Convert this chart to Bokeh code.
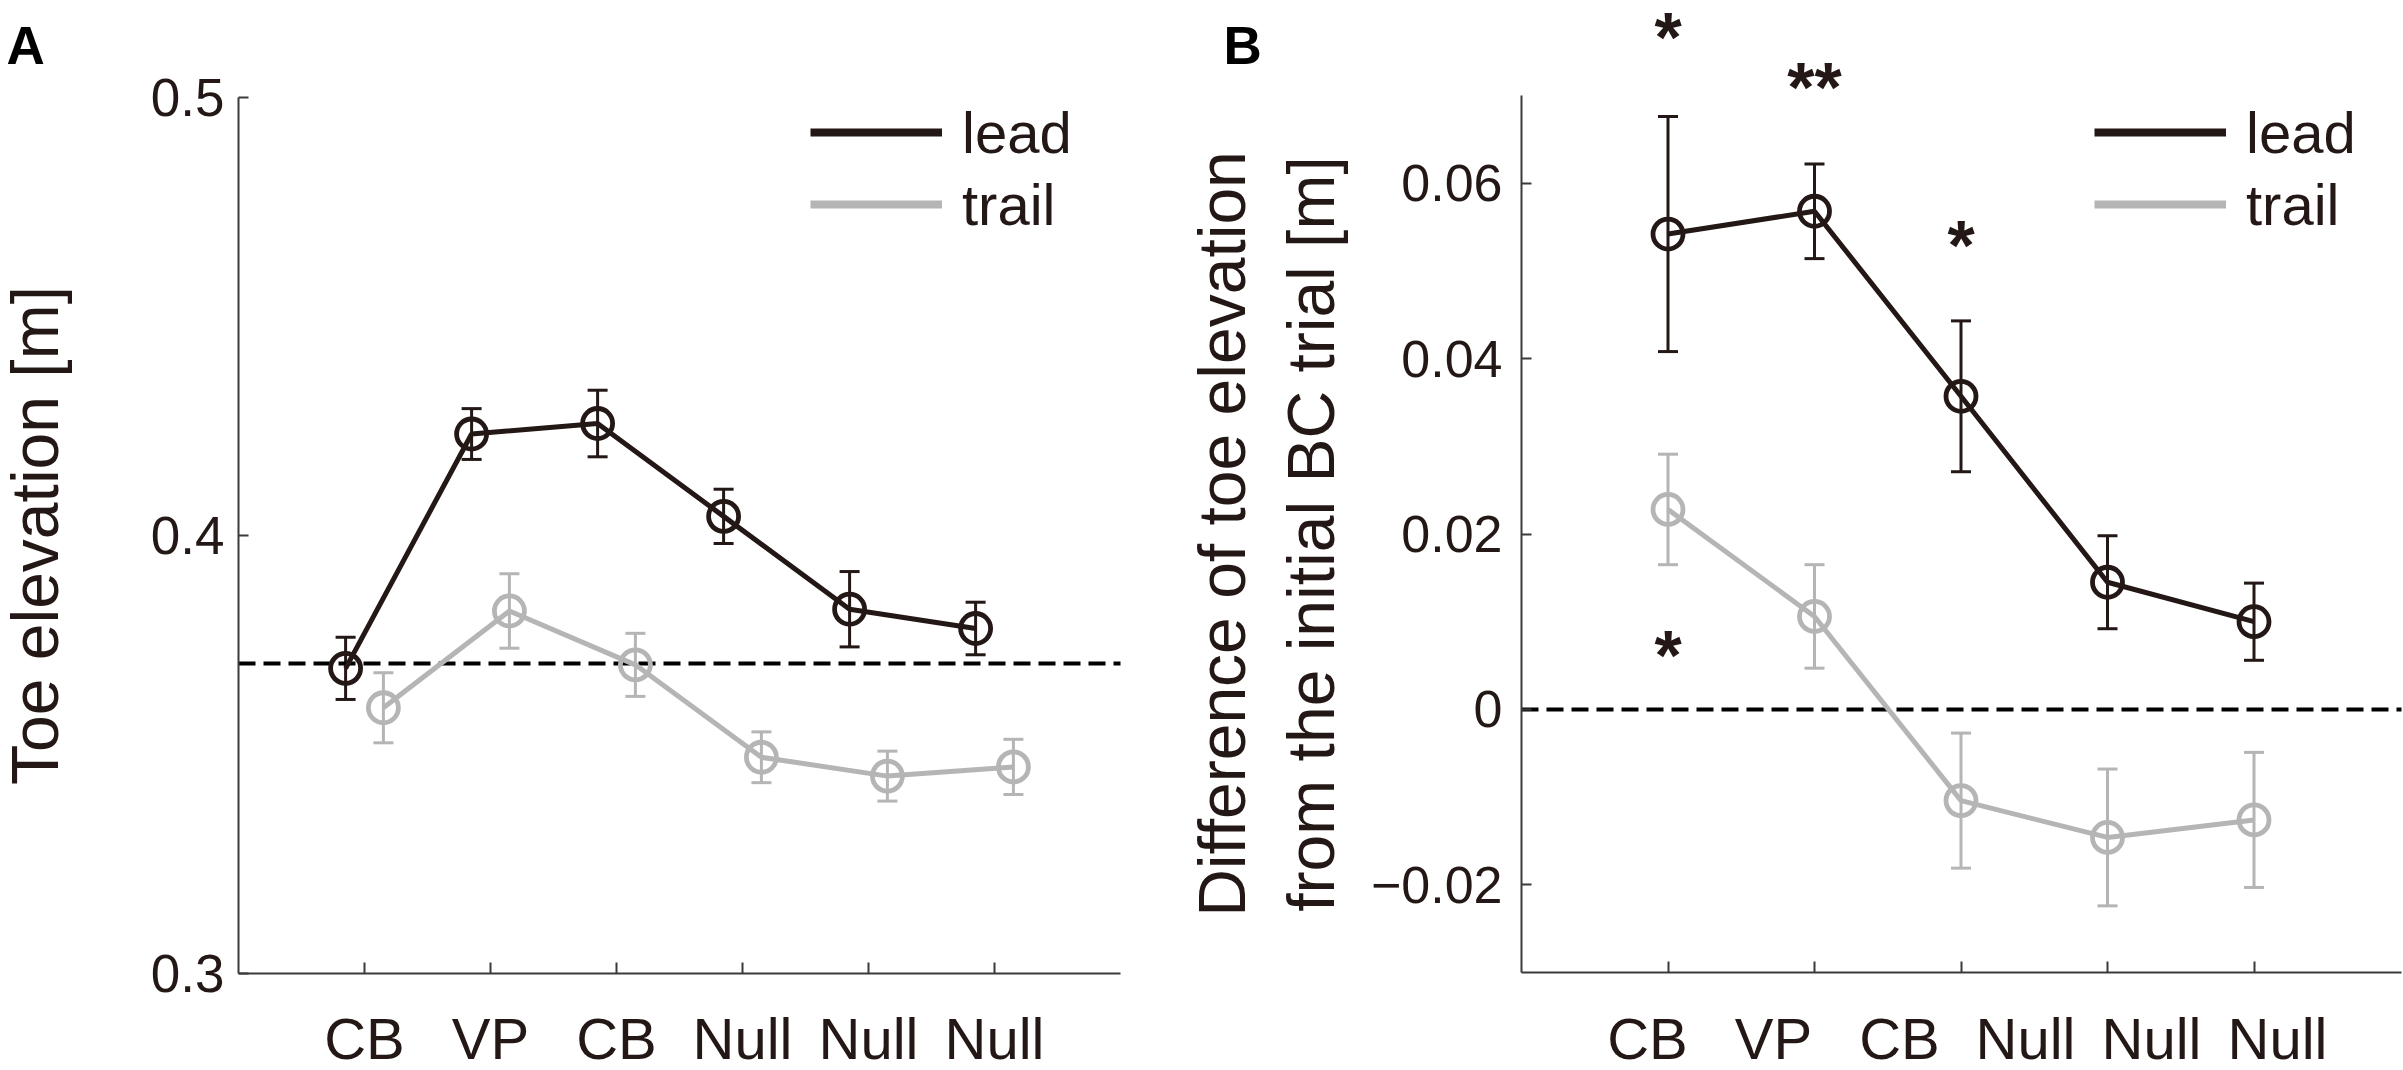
import numpy as np
from bokeh.plotting import figure
from bokeh.models import (Range1d, LinearAxis, FixedTicker, Whisker, TeeHead,
                          ColumnDataSource, Legend, LegendItem, Label)
from bokeh.layouts import row
from bokeh.embed import file_html
from bokeh.resources import INLINE
from bokeh.core.properties import value

# ---------------- data ----------------
conditions = ["CB", "VP", "CB", "Null", "Null", "Null"]

a_lead_mean = [0.3696, 0.4231, 0.4255, 0.4043, 0.3831, 0.3787]
a_lead_err = [0.0071, 0.0058, 0.0076, 0.0062, 0.0086, 0.0060]
a_trail_mean = [0.3606, 0.3827, 0.3704, 0.3493, 0.3450, 0.3471]
a_trail_err = [0.0080, 0.0085, 0.0072, 0.0058, 0.0057, 0.0063]
a_baseline = 0.3707
a_yticks = [0.3, 0.4, 0.5]
a_ytick_labels = ["0.3", "0.4", "0.5"]

b_lead_mean = [0.0542, 0.0568, 0.0357, 0.0145, 0.0100]
b_lead_err = [0.0134, 0.0054, 0.0086, 0.0053, 0.0044]
b_trail_mean = [0.0228, 0.0106, -0.0104, -0.0146, -0.0126]
b_trail_err = [0.0063, 0.0059, 0.0077, 0.0078, 0.0077]
b_baseline = 0.0
b_yticks = [-0.02, 0.0, 0.02, 0.04, 0.06]
b_ytick_labels = ["\u22120.02", "0", "0.02", "0.04", "0.06"]

sig_x = [1, 2, 3, 1]
sig_y = [0.0773, 0.0716, 0.0536, 0.0069]
sig_text = ["*", "**", "*", "*"]

series_names = ["lead", "trail"]

# ---------------- style / geometry ----------------
FONT = "Liberation Sans"
INK = "#231815"
GRAY = "#b5b5b5"
AXIS = "#3a3a3a"
OFFSET = 0.15
H = 1070

A_W, A_AX, A_PX = 1190, 238, 126.0          # figure width, axis pixel, px per x unit
A_X_MAX = 7.0
A_Y_BOUNDS = (0.3, 0.5)
A_Y_RANGE = (0.277785, 0.522078)

B_W, B_AX, B_PX, B_LAB_PX = 1213, 331, 146.5, 126.0
B_X_MAX = 880 / 146.5
B_Y_BOUNDS = (-0.03, 0.07)
B_Y_RANGE = (-0.041174, 0.080832)


def base_fig(w, ax_px, px_per, y_range):
    p = figure(frame_width=w, frame_height=H,
               x_range=Range1d(-ax_px / px_per, (w - ax_px) / px_per),
               y_range=Range1d(*y_range),
               output_backend="svg", toolbar_location=None,
               x_axis_location=None, y_axis_location=None, title_location=None,
               min_border=0)
    p.background_fill_color = "white"
    p.border_fill_color = "white"
    p.outline_line_color = None
    for g in p.grid:
        g.visible = False
    return p


def style_axis(ax, size):
    ax.axis_line_color = AXIS
    ax.axis_line_width = 2
    ax.major_tick_line_color = AXIS
    ax.major_tick_line_width = 2
    ax.major_tick_in = 10
    ax.major_tick_out = 0
    ax.minor_tick_line_color = None
    ax.major_label_text_font = FONT
    ax.major_label_text_font_size = size
    ax.major_label_text_color = INK
    ax.axis_label_text_font = FONT
    ax.axis_label_text_font_size = "66px"
    ax.axis_label_text_font_style = "normal"
    ax.axis_label_text_color = INK


def add_series(p, xs, means, errs, color):
    means = np.array(means)
    errs = np.array(errs)
    src = ColumnDataSource(dict(x=xs, y=means, lo=means - errs, hi=means + errs))
    p.line("x", "y", source=src, line_width=5, line_color=color)
    w = Whisker(source=src, base="x", lower="lo", upper="hi",
                line_color=color, line_width=3,
                lower_head=TeeHead(size=20, line_color=color, line_width=3),
                upper_head=TeeHead(size=20, line_color=color, line_width=3))
    p.add_layout(w)
    p.scatter("x", "y", source=src, marker="circle", size=30, line_width=4.8,
              line_color=color, fill_color=None)


def add_legend(p, x_px):
    rl = p.line(x=[np.nan], y=[np.nan], line_width=8, line_color=INK)
    rt = p.line(x=[np.nan], y=[np.nan], line_width=8, line_color=GRAY)
    leg = Legend(items=[LegendItem(label=series_names[0], renderers=[rl]),
                        LegendItem(label=series_names[1], renderers=[rt])],
                 location=(x_px, 830), orientation="vertical",
                 glyph_width=132, glyph_height=72, label_height=72,
                 label_standoff=20, spacing=0, padding=0, margin=0,
                 border_line_color=None, background_fill_alpha=0,
                 label_text_font=FONT, label_text_font_size="58px",
                 label_text_color=INK)
    p.add_layout(leg)


def add_baseline(p, y, x_max):
    p.line(x=[0, x_max], y=[y, y], line_color="black", line_width=4, line_dash="17 8")


def panel_letter(p, text, x_px):
    p.add_layout(Label(x=x_px, y=H - 45, x_units="screen", y_units="screen", text=text,
                       text_font=FONT, text_font_size="53px", text_font_style="bold",
                       text_color="black", text_baseline="alphabetic"))


# ---------------- panel A ----------------
idx_a = np.arange(1, len(conditions) + 1)
pA = base_fig(A_W, A_AX, A_PX, A_Y_RANGE)

yA = LinearAxis(ticker=FixedTicker(ticks=a_yticks), bounds=A_Y_BOUNDS, fixed_location=0,
                axis_label="Toe elevation [m]",
                major_label_overrides={t: l for t, l in zip(a_yticks, a_ytick_labels)})
style_axis(yA, "53px")
yA.major_label_standoff = 14
yA.axis_label_standoff = 76
pA.add_layout(yA, "left")

xA = LinearAxis(ticker=FixedTicker(ticks=list(map(float, idx_a))), fixed_location=A_Y_BOUNDS[0],
                bounds=(0, A_X_MAX),
                major_label_overrides={float(i): c for i, c in zip(idx_a, conditions)})
style_axis(xA, "58px")
xA.major_tick_in = 11
xA.major_label_standoff = 33
pA.add_layout(xA, "below")

add_baseline(pA, a_baseline, A_X_MAX)
add_series(pA, idx_a - OFFSET, a_lead_mean, a_lead_err, INK)
add_series(pA, idx_a + OFFSET, a_trail_mean, a_trail_err, GRAY)
add_legend(pA, 810)
panel_letter(pA, "A", 6)

# ---------------- panel B ----------------
idx_b = np.arange(1, len(b_lead_mean) + 1)
pB = base_fig(B_W, B_AX, B_PX, B_Y_RANGE)
pB.extra_x_ranges = {"lab": Range1d(-B_AX / B_LAB_PX, (B_W - B_AX) / B_LAB_PX)}

yB = LinearAxis(ticker=FixedTicker(ticks=b_yticks), bounds=B_Y_BOUNDS, fixed_location=0,
                axis_label="Difference of toe elevation\nfrom the initial BC trial [m]",
                major_label_overrides={t: l for t, l in zip(b_yticks, b_ytick_labels)})
style_axis(yB, "52px")
yB.major_label_standoff = 19
yB.axis_label_standoff = 20
pB.add_layout(yB, "left")

xB = LinearAxis(ticker=FixedTicker(ticks=list(map(float, idx_b))), fixed_location=B_Y_BOUNDS[0],
                bounds=(0, B_X_MAX),
                major_label_overrides={float(i): "" for i in idx_b})
style_axis(xB, "58px")
xB.major_tick_in = 11
pB.add_layout(xB, "below")

xBl = LinearAxis(x_range_name="lab", ticker=FixedTicker(ticks=list(map(float, idx_a))),
                 fixed_location=B_Y_BOUNDS[0],
                 major_label_overrides={float(i): c for i, c in zip(idx_a, conditions)})
style_axis(xBl, "58px")
xBl.axis_line_color = None
xBl.major_tick_line_color = None
xBl.major_label_standoff = 33
pB.add_layout(xBl, "below")

add_baseline(pB, b_baseline, B_X_MAX)
add_series(pB, idx_b, b_lead_mean, b_lead_err, INK)
add_series(pB, idx_b, b_trail_mean, b_trail_err, GRAY)
add_legend(pB, 904)
pB.text(x=sig_x, y=sig_y, text=sig_text, text_font=value(FONT), text_font_size="70px",
        text_font_style="bold", text_align="center", text_baseline="alphabetic",
        y_offset=7, text_color=INK)
panel_letter(pB, "B", 33)

layout = row(pA, pB)
open("out.html", "w").write(file_html(layout, INLINE))
